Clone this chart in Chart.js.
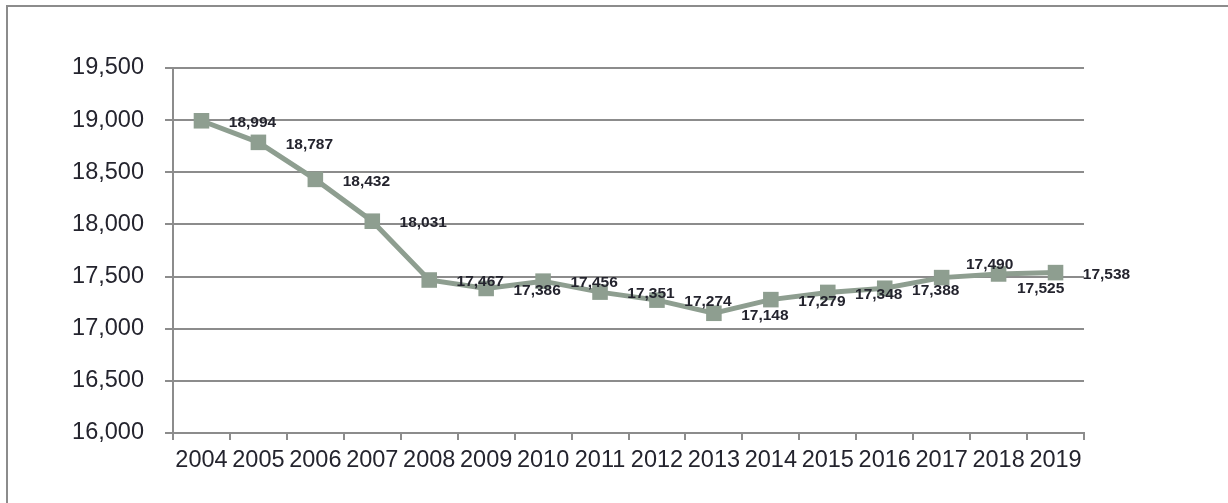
<!DOCTYPE html>
<html>
<head>
<meta charset="utf-8">
<script src="https://cdn.jsdelivr.net/npm/chart.js@4/dist/chart.umd.min.js"></script>
<style>
  body { margin: 0; background: #fff; }
  #wrap { position: relative; width: 1228px; height: 503px; }
  #frame {
    position: absolute; left: 6px; top: 5px; right: 0; bottom: 0;
    border-left: 2px solid #8c8c8c; border-top: 2px solid #8c8c8c;
    pointer-events: none;
  }
</style>
</head>
<body>
<div id="wrap">
  <canvas id="line_chart" width="1228" height="503"></canvas>
  <div id="frame"></div>
</div>
<script>

const years = ['2004', '2005', '2006', '2007', '2008', '2009', '2010', '2011',
               '2012', '2013', '2014', '2015', '2016', '2017', '2018', '2019'];
const values = [18994, 18787, 18432, 18031, 17467, 17386, 17456, 17351,
                17274, 17148, 17279, 17348, 17388, 17490, 17525, 17538];
const yMin = 16000;
const yMax = 19500;
const yStep = 500;

const lineColour = '#8e9e90';
const gridColour = '#8c8c8c';
const textColour = '#24242e';

// value labels sit to the right of each point, two are nudged up/down
function labelShift(i) {
    if (i === 13) return { dx: 48, dy: -13 };
    if (i === 14) return { dx: 42, dy: 15 };
    return { dx: 51, dy: 2 };
}

const valueLabels = {
    id: 'valueLabels',
    afterDatasetsDraw(chart) {
        const ctx = chart.ctx;
        const meta = chart.getDatasetMeta(0);
        ctx.save();
        ctx.font = 'bold 15.5px "Liberation Sans", Arial, sans-serif';
        ctx.fillStyle = textColour;
        ctx.textAlign = 'center';
        ctx.textBaseline = 'middle';
        meta.data.forEach(function (pt, i) {
            const s = labelShift(i);
            ctx.fillText(values[i].toLocaleString('en-US'), pt.x + s.dx, pt.y + s.dy);
        });
        ctx.restore();
    }
};

function init_line_chart() {
    const elem = document.getElementById('line_chart').getContext('2d');

    const config = {
        type: 'line',
        data: {
            labels: years,
            datasets: [{
                data: values,
                borderColor: lineColour,
                backgroundColor: lineColour,
                borderWidth: 5,
                tension: 0,
                pointStyle: 'rect',
                pointRadius: 11,
                pointBorderWidth: 0,
                pointBackgroundColor: lineColour
            }]
        },
        options: {
            responsive: false,
            animation: false,
            layout: {
                padding: { left: 0, top: 68, right: 144, bottom: 0 }
            },
            plugins: {
                legend: { display: false },
                tooltip: { enabled: false }
            },
            scales: {
                x: {
                    offset: true,
                    grid: {
                        offset: true,
                        drawOnChartArea: false,
                        color: gridColour,
                        lineWidth: 2,
                        tickLength: 7
                    },
                    border: { color: gridColour, width: 2 },
                    ticks: {
                        color: textColour,
                        padding: 6,
                        maxRotation: 0,
                        autoSkip: false,
                        font: { family: '"Liberation Sans", Arial, sans-serif', size: 23.5 }
                    },
                    afterFit: function (scale) { scale.height = 70; }
                },
                y: {
                    min: yMin,
                    max: yMax,
                    grid: {
                        color: gridColour,
                        lineWidth: 2,
                        tickLength: 8
                    },
                    border: { color: gridColour, width: 2 },
                    ticks: {
                        stepSize: yStep,
                        color: textColour,
                        padding: 21,
                        font: { family: '"Liberation Sans", Arial, sans-serif', size: 23.5 }
                    },
                    afterFit: function (scale) { scale.width = 173; }
                }
            }
        },
        plugins: [valueLabels]
    };

    return new Chart(elem, config);
}

init_line_chart();
</script>
</body>
</html>
